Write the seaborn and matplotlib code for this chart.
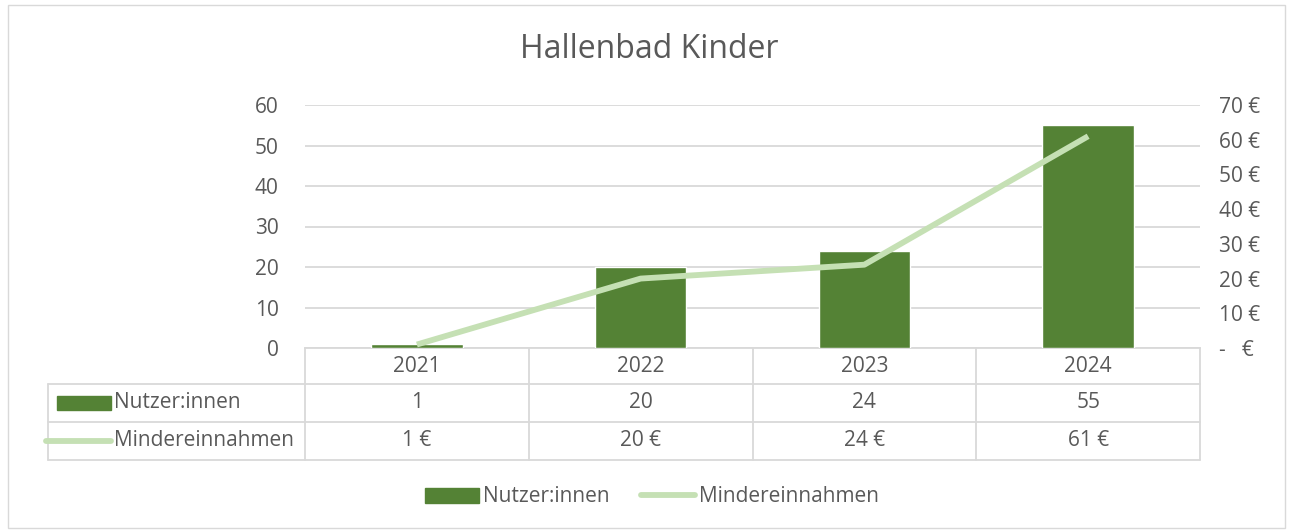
import numpy as np
import pandas as pd
import matplotlib
matplotlib.use('Agg')
import matplotlib.pyplot as plt
import matplotlib.transforms as mtransforms
from matplotlib.patches import Rectangle
from matplotlib.lines import Line2D
import seaborn as sns

# Data
years = ['2021', '2022', '2023', '2024']
nutzer = [1, 20, 24, 55]
minder = [1, 20, 24, 61]
bar_label = 'Nutzer:innen'
line_label = 'Mindereinnahmen'
title = 'Hallenbad Kinder'

BAR_COLOR = '#548235'
LINE_COLOR = '#C5E0B4'
TEXT_COLOR = '#595959'
GRID_COLOR = '#D9D9D9'

W, H = 1291, 531
FS = 15

sns.set_theme(style='white')
plt.rcParams['font.family'] = ['Open Sans', 'DejaVu Sans']

df = pd.DataFrame({'year': years, 'nutzer': nutzer, 'minder': minder})

fig = plt.figure(figsize=(W / 100, H / 100), dpi=100)


def fx(px):
    return px / W


def fy(py):
    return 1 - py / H


# outer border
fig.patches.append(Rectangle((fx(8), fy(528)), fx(1285) - fx(8), fy(5) - fy(528),
                             transform=fig.transFigure, fill=False,
                             edgecolor=GRID_COLOR, lw=1))

ax = fig.add_axes([fx(305), fy(348), fx(1200) - fx(305), fy(105) - fy(348)])
sns.barplot(data=df, x='year', y='nutzer', color=BAR_COLOR, width=0.41,
            saturation=1, ax=ax, zorder=3)
ax.set_ylim(0, 60)
ax.set_xlim(-0.5, 3.5)
ax.set_yticks(range(0, 61, 10))
ax.yaxis.grid(True, color=GRID_COLOR, lw=1.3, zorder=0)
ax.set_xticks([])
ax.set_xlabel('')
ax.set_ylabel('')
for s in ['top', 'right', 'left']:
    ax.spines[s].set_visible(False)
ax.spines['bottom'].set_color(GRID_COLOR)
ax.spines['bottom'].set_linewidth(1.3)
ax.tick_params(axis='y', length=0, labelsize=FS, labelcolor=TEXT_COLOR, pad=19)

ax2 = ax.twinx()
sns.lineplot(x=np.arange(len(years)), y=minder, color=LINE_COLOR, lw=4.2,
             ax=ax2, zorder=4, solid_capstyle='butt')
ax2.set_ylim(0, 70)
ax2.set_yticks(range(0, 71, 10))
ax2.set_yticklabels(['-   €'] + [f'{v} €' for v in range(10, 71, 10)])
ax2.tick_params(axis='y', length=0, labelsize=FS, labelcolor=TEXT_COLOR, pad=14)
for s in ['top', 'right', 'left', 'bottom']:
    ax2.spines[s].set_visible(False)
ax2.set_xlim(-0.5, 3.5)

fig.text(fx(649), fy(50), title, ha='center', va='center', fontsize=23,
         color=TEXT_COLOR)

# data table below the axis
blend = mtransforms.blended_transform_factory(ax.transData, fig.transFigure)
rows_y = [348, 384, 422, 460]


def hline(x0, x1, py):
    fig.lines.append(Line2D([fx(x0), fx(x1)], [fy(py), fy(py)],
                            transform=fig.transFigure, color=GRID_COLOR, lw=1.3))


def vline(px, y0, y1):
    fig.lines.append(Line2D([fx(px), fx(px)], [fy(y0), fy(y1)],
                            transform=fig.transFigure, color=GRID_COLOR, lw=1.3))


for py in rows_y[1:]:
    hline(48, 1200, py)
vline(48, 384, 460)
for i in range(len(years) + 1):
    xb = i - 0.5
    ax.plot([xb, xb], [fy(348), fy(460)], transform=blend, color=GRID_COLOR,
            lw=1.3, clip_on=False)

for i, yr in enumerate(years):
    ax.text(i, fy(366), yr, transform=blend, ha='center', va='center',
            fontsize=FS, color=TEXT_COLOR)
    ax.text(i, fy(403), str(nutzer[i]), transform=blend, ha='center',
            va='center', fontsize=FS, color=TEXT_COLOR)
    ax.text(i, fy(441), f'{minder[i]} €', transform=blend, ha='center',
            va='center', fontsize=FS, color=TEXT_COLOR)

# row legend keys
fig.patches.append(Rectangle((fx(57), fy(410)), fx(111) - fx(57), fy(396) - fy(410),
                             transform=fig.transFigure, color=BAR_COLOR))
fig.text(fx(114), fy(403), bar_label, ha='left', va='center', fontsize=FS,
         color=TEXT_COLOR)
fig.lines.append(Line2D([fx(46), fx(111)], [fy(441), fy(441)],
                        transform=fig.transFigure, color=LINE_COLOR, lw=4.2,
                        solid_capstyle='round'))
fig.text(fx(114), fy(441), line_label, ha='left', va='center', fontsize=FS,
         color=TEXT_COLOR)

# bottom legend
handles = [Rectangle((0, 0), 1, 1, color=BAR_COLOR),
           Line2D([], [], color=LINE_COLOR, lw=4.2)]
fig.legend(handles, [bar_label, line_label], loc='center',
           bbox_to_anchor=(fx(652), fy(497)), ncol=2, frameon=False,
           fontsize=FS, labelcolor=TEXT_COLOR, handlelength=2.6,
           handletextpad=0.2, columnspacing=1.5)

fig.savefig('out.png', dpi=100)
